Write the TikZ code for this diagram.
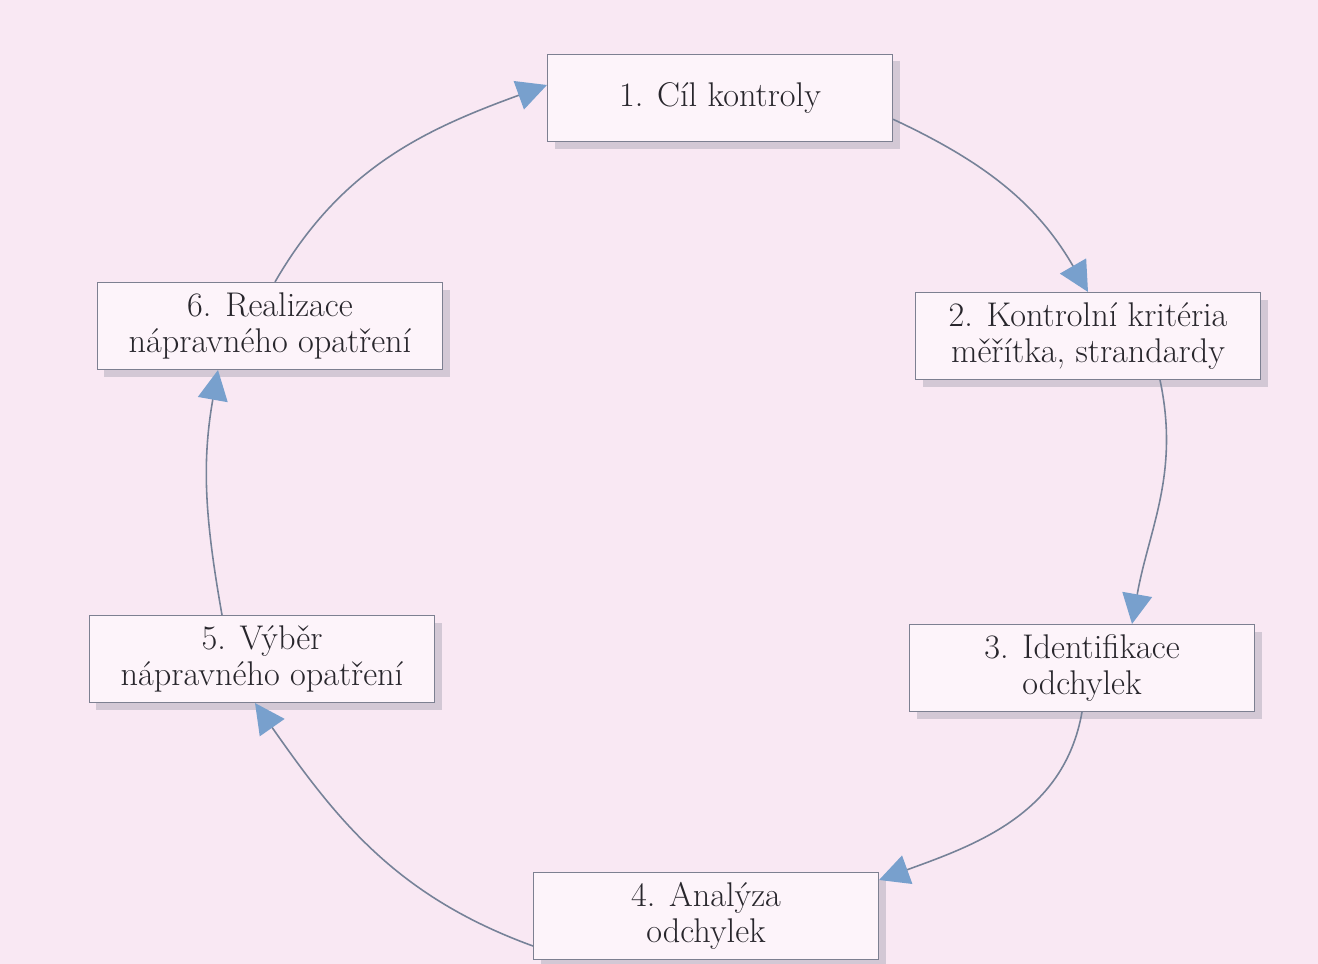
\documentclass[tikz,border=0pt]{standalone}
\usepackage{fontspec}
\usepackage{tikz}
\usetikzlibrary{arrows.meta,shadows}
\definecolor{bgpink}{RGB}{249,232,243}
\definecolor{boxfill}{RGB}{253,244,250}
\definecolor{boxline}{RGB}{125,128,145}
\definecolor{linegray}{RGB}{118,130,152}
\definecolor{tipblue}{RGB}{120,160,205}
\definecolor{inkgray}{RGB}{40,38,44}
\newcommand{\arw}{-{Triangle[length=6mm,width=6mm,color=tipblue]}}
\tikzset{
  stage/.style={draw=boxline,line width=.6pt,fill=boxfill,
    minimum width=69mm,minimum height=17.4mm,align=center,
    text=inkgray,font=\fontsize{19.5}{20.8}\selectfont,
    drop shadow={shadow xshift=1.4mm,shadow yshift=-1.4mm,
      fill=boxline,opacity=.3}},
  flow/.style={draw=linegray,line width=.9pt}
}

\begin{document}
\begin{tikzpicture}[x=.2mm,y=-.2mm]
\fill[bgpink] (0,0) rectangle (1318,964);
\useasboundingbox (0,0) rectangle (1318,964);
%control cycle
\node[stage] (c1) at (720, 98) {1. Cíl kontroly};
\node[stage] (c2) at (1088,336) {2. Kontrolní kritéria\\ měřítka, strandardy};
\node[stage] (c3) at (1082,668) {3. Identifikace\\ odchylek};
\node[stage] (c4) at (706,916) {4. Analýza\\ odchylek};
\node[stage] (c5) at (262,659) {5. Výběr\\ nápravného opatření};
\node[stage] (c6) at (270,326) {6. Realizace\\ nápravného opatření};
\draw[flow,\arw] (c1.-7) to[out=-25,in=120] (c2.north);
\draw[flow,\arw] ([xshift=14.4mm]c2.south) to[out=-78,in=80] ([xshift=10mm]c3.north);
\draw[flow,\arw] (c3.south) to[out=-100,in=20] ([yshift=-1.6mm]c4.north east);
\draw[flow,\arw] ([yshift=-6mm]c4.west) to[out=160,in=-55] ([xshift=-1.4mm]c5.south);
\draw[flow,\arw] ([xshift=-8mm]c5.north) to[out=100,in=-100] ([xshift=-10.4mm]c6.south);
\draw[flow,\arw] ([xshift=1mm]c6.north) to[out=60,in=-160] ([yshift=2.6mm]c1.west);
\end{tikzpicture}
\end{document}
